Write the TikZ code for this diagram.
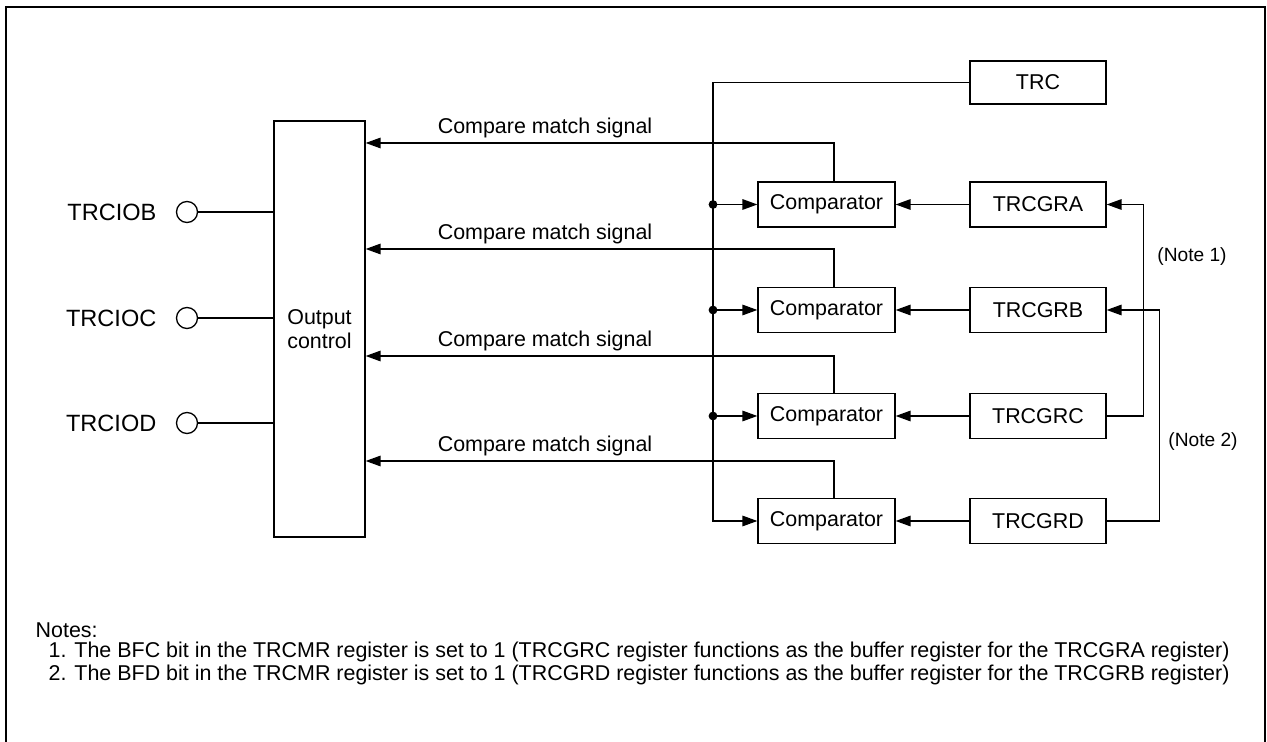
\documentclass[tikz,border=0pt]{standalone}
\usepackage{fontspec}
\setmainfont{Liberation Sans}
\usetikzlibrary{arrows.meta}
\begin{document}
\begin{tikzpicture}[x=0.02cm,y=-0.02cm,
  font=\fontsize{12.2}{14}\selectfont, line width=0.75pt,
  box/.style={draw, line width=0.75pt, minimum width=2.74cm, minimum height=0.9cm, inner sep=0},
  arr/.style={-{Triangle[length=8.5pt,width=6pt]}},
  pinc/.style={draw, circle, minimum size=0.42cm, inner sep=0},
  jdot/.style={circle, fill, minimum size=5pt, inner sep=0},
  lbl/.style={inner sep=0},
  pinlbl/.style={inner sep=0, anchor=east, font=\fontsize{13.4}{15}\selectfont},
  notelbl/.style={inner sep=0, font=\fontsize{10.9}{13}\selectfont}]
\useasboundingbox (0,0) rectangle (1267,742);
\draw[line width=1.13pt] (6,742) -- (6,7) -- (1265,7) -- (1265,742);

% output control
\node[draw, minimum width=1.82cm, minimum height=8.32cm, align=center, inner sep=0] (oc) at (319.5,329) {Output\\control};

% pins
\node[pinc] (pb) at (187,212) {};
\node[pinc] (pc) at (187,318) {};
\node[pinc] (pd) at (187,423) {};
\node[pinlbl] (lb) at (157,212) {TRCIOB};
\node[pinlbl] (lc) at (157,318) {TRCIOC};
\node[pinlbl] (ld) at (157,423) {TRCIOD};
\draw (pb.east) -- (pb.east -| oc.west);
\draw (pc.east) -- (pc.east -| oc.west);
\draw (pd.east) -- (pd.east -| oc.west);

% comparators
\node[box] (c1) at (826.5,204.5) {Comparator};
\node[box] (c2) at (826.5,310) {Comparator};
\node[box] (c3) at (826.5,416) {Comparator};
\node[box] (c4) at (826.5,521) {Comparator};

% registers
\node[box, minimum width=2.72cm, minimum height=0.86cm] (trc) at (1038,82.5) {TRC};
\node[box, minimum width=2.72cm] (ga) at (1038,204.5) {TRCGRA};
\node[box, minimum width=2.72cm] (gb) at (1038,310) {TRCGRB};
\node[box, minimum width=2.72cm] (gc) at (1038,416) {TRCGRC};
\node[box, minimum width=2.72cm] (gd) at (1038,521) {TRCGRD};

% compare match signals
\coordinate (s1) at (0,143);
\coordinate (s2) at (0,249);
\coordinate (s3) at (0,356);
\coordinate (s4) at (0,461);
\draw[arr] ([xshift=0.15cm]c1.north) |- (oc.east |- s1);
\draw[arr] ([xshift=0.15cm]c2.north) |- (oc.east |- s2);
\draw[arr] ([xshift=0.15cm]c3.north) |- (oc.east |- s3);
\draw[arr] ([xshift=0.15cm]c4.north) |- (oc.east |- s4);
\node[lbl] (m1) at (545,128) {Compare match signal};
\node[lbl] (m2) at (545,234) {Compare match signal};
\node[lbl] (m3) at (545,341) {Compare match signal};
\node[lbl] (m4) at (545,446) {Compare match signal};

% TRC bus
\coordinate (bus) at (713,82.5);
\draw[arr] (trc.west) -- (bus) |- (c4.west);
\draw[arr] (c1.west -| bus) -- (c1.west);
\draw[arr] (c2.west -| bus) -- (c2.west);
\draw[arr] (c3.west -| bus) -- (c3.west);
\node[jdot] at (c1.west -| bus) {};
\node[jdot] at (c2.west -| bus) {};
\node[jdot] at (c3.west -| bus) {};

% registers to comparators
\draw[arr] (ga.west) -- (c1.east);
\draw[arr] (gb.west) -- (c2.east);
\draw[arr] (gc.west) -- (c3.east);
\draw[arr] (gd.west) -- (c4.east);

% buffer paths
\draw[arr] (gc.east) -- ++(37,0) |- (ga.east);
\draw[arr] (gd.east) -- ++(53,0) |- (gb.east);
\node[notelbl] (n1) at (1192,257) {(Note 1)};
\node[notelbl] (n2) at (1203,442) {(Note 2)};

% notes
\node[lbl, anchor=west] (nt) at (35,630) {Notes:};
\node[lbl, anchor=west] (nt1) at (48,652) {1. The BFC bit in the TRCMR register is set to 1 (TRCGRC register functions as the buffer register for the TRCGRA register)};
\node[lbl, anchor=west] (nt2) at (48,675) {2. The BFD bit in the TRCMR register is set to 1 (TRCGRD register functions as the buffer register for the TRCGRB register)};
\end{tikzpicture}
\end{document}
